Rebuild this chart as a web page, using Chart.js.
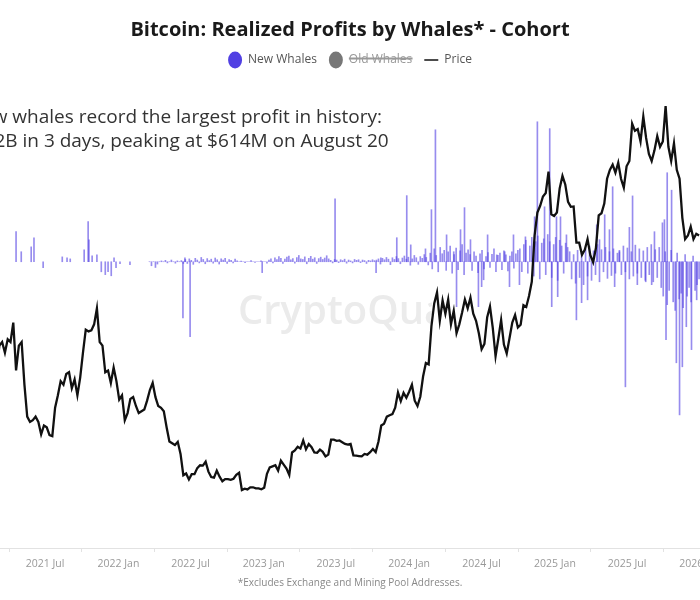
<!DOCTYPE html>
<html>
<head>
<meta charset="utf-8">
<script src="https://cdn.jsdelivr.net/npm/chart.js@4.4.1/dist/chart.umd.min.js"></script>
<style>
  html, body { margin: 0; padding: 0; background: #fff; overflow: hidden; width: 700px; height: 600px; }
  #wrap { position: absolute; left: -60px; top: 0; width: 820px; height: 600px; }
</style>
</head>
<body>
<div id="wrap"><canvas id="chart"></canvas></div>
<script>
// Weekly BTC price (USD), one value per Monday starting 2021-03-01
const PRICE_START = '2021-03-01';
const price2021 = [49500, 57000, 58000, 55000, 58800, 58000, 63500, 50000, 57000,
    58000, 46000, 37000, 35500, 36000, 37000, 35500, 32000, 34500,
    34000, 31800, 31500, 39500, 43000, 47000, 46000, 49000, 49500,
    45000, 47500, 43000, 48000, 55000, 61500, 61000, 61300,
    63000, 67500, 58000, 57000, 49500, 50000, 46500, 50800, 47000];
const price2022 = [41800, 43000, 36000, 38000, 42000, 42500, 40000, 38000, 38500,
    39000, 41500, 44500, 46500, 42500, 40000, 39500, 38500,
    34000, 30000, 29500, 29000, 29900, 26500, 20500, 21000, 19300,
    20800, 20800, 22500, 23300, 23200, 24300, 21500, 20000, 19800,
    21800, 20100, 18800, 19400, 19400, 19200, 19500, 20600, 21200,
    16300, 16700, 16500, 17100, 17100, 16800, 16800, 16550];
const price2023 = [17000, 20900, 22700, 23000, 23300, 21800, 24600, 23500, 22400,
    20600, 26900, 27500, 28500, 28000, 30300, 27800, 29300,
    28400, 26900, 26800, 27700, 27100, 25800, 26300, 30500, 30500,
    30200, 30300, 29800, 29300, 29100, 29300, 26100, 26000, 25900,
    25800, 26500, 26300, 27000, 27900, 27000, 30000, 34500, 35000,
    37000, 37400, 37700, 39500, 43800, 41400, 43700, 42300];
const price2024 = [44000, 46000, 41500, 40000, 42600, 48300, 52100, 51700, 62500,
    68900, 72000, 64000, 69700, 66000, 70000, 63000, 66800, 60500,
    63000, 66300, 70000, 67500, 70500, 66000, 64000, 60500,
    56000, 57500, 65000, 68000, 62000, 54000, 59000, 64200, 57300,
    54800, 59100, 63500, 65600, 62100, 62900, 68400, 67900, 71000,
    75000, 88000, 94500, 96400, 99000, 100000, 106000, 94000, 93500];
const price2025 = [94500, 101300, 104800, 102400, 97500, 96100, 96200, 86000,
    86000, 82600, 84000, 87000, 82500, 80500, 84500, 93700, 94300,
    97000, 104000, 106500, 108000, 105700, 108500, 104000, 101500, 107500,
    109000, 119500, 117500, 118000, 114500, 121500, 115500, 111000,
    109000, 112000, 116000, 113000, 114500, 124500, 113000, 109000, 114000,
    106500, 104000, 93000, 87000, 88000, 90500, 87000, 88500, 88000];
const priceValues = [...price2021, ...price2022, ...price2023, ...price2024, ...price2025];

// New whales realized profit, notable spikes ($M)
const spikeDates = ['2021-04-19','2021-05-02','2021-05-27','2021-06-03','2021-06-26','2021-08-13','2021-08-25',
    '2021-09-02','2021-10-07','2021-10-17','2021-10-19','2021-10-27','2021-11-08','2021-11-19','2021-11-29',
    '2021-12-06','2021-12-14','2021-12-21','2021-12-26','2022-01-05','2022-01-30','2022-06-12','2022-06-17',
    '2022-06-30','2022-12-28','2023-06-29','2023-10-10','2023-10-22','2023-12-01','2023-12-26','2024-01-05',
    '2024-02-11','2024-02-26','2024-03-07','2024-04-04','2024-04-22','2024-04-29','2024-05-09','2024-05-19',
    '2024-06-03','2024-06-23','2024-07-01','2024-07-06','2024-07-16','2024-08-08','2024-08-28','2024-09-09',
    '2024-09-19','2024-10-04','2024-10-19','2024-11-11','2024-11-18','2024-12-06','2024-12-19','2024-12-24',
    '2025-01-05','2025-01-08','2025-01-15','2025-01-30','2025-02-24','2025-03-09','2025-03-24','2025-04-16',
    '2025-04-23','2025-05-06','2025-05-18','2025-05-26','2025-05-31','2025-06-12','2025-06-27','2025-07-07',
    '2025-07-15','2025-07-27','2025-08-17','2025-09-01','2025-09-08','2025-09-28','2025-10-03','2025-10-07',
    '2025-10-10','2025-10-21','2025-11-02','2025-11-10','2025-11-17','2025-11-27','2025-12-10','2025-12-23'];
const spikeValues = [105, 35, 52, 84, -21, 17, 14,
    10, 42, 140, 77, 21, 24, -35, -45,
    -35, -49, 14, -21, -7, -10, -196, 14,
    -262, -38, 220, -38, 14, 84, 231, 59,
    45, 182, 461, 94, 35, -157, 112, 189,
    77, -157, -87, -63, 94, 24, 35, -87,
    94, -80, 87, 157, 489, 192, 465, -157,
    157, -122, 157, 94, -203, -143, -133, 129,
    77, 164, 112, 262, -87, 35, -437, 120,
    230, -80, -70, -80, 105, 136, 147, -272,
    311, 250, -353, -535, -367, -227, -307, -133];

// Day-to-day small profits/losses ($M), every 5 days from 2022-03-20
const SMALL_START = '2022-03-20';
const smallValues = [0, -14, 0, -20, -8, 0, 3, 0, 5, -4, 0, 6, 0, -5, 3, 0, 4, -6,
    8, -6, 10, 5, -9, 12, 6, -4, 15, 8, -7, 11, 4, 9, -5, 13, 7, -8, 10, 6, 12, -6, 8, 5, -4, 9, 3,
    0, 2, 0, -3, 0, 0, 4, 0, -2, 0, 0, 3, 0, 0, -5,
    6, 10, -4, 14, 8, 18, 12, -6, 9, 16, 20, 7, 11, -5, 15, 22, 10, 8, 17, -7, 12, 19, 9, 14, -6, 11, 16, 8, 13, 21, 10,
    5, -4, 8, 6, -3, 7, 4, 9, -5, 6, 3, -4, 8, 5, 7, -3, 6, 4, -6, 5, 3, 7, 4,
    6, 10, -8, 12, 7, 15, 9, -10, 14, 8, 18, 11, -7, 13, 20, 9, 16, -12, 10, 22, 14, -9, 18, 12, 25, 15, -11,
    30, -25, 45, 22, -35, 50, 28, 40, -30, 35, 55, -40, 25, 48, -28, 38, 60, -45, 30, 42,
    25, -30, 35, 20, -38, 28, 40, -25, 18, 32, -20, 26, 45, -35, 22, 30, -28, 38, 24, -32, 20, 35, -22, 28, 40,
    45, -35, 60, 75, -40, 55, 85, -50, 70, 90, -60, 65, 80, -45, 95, 70, -55, 60, 85, -65, 75, 55, -40, 65, 50,
    35, -60, 25, -75, 40, -55, 30, -80, 45, -50, 55, -65, 38, -45, 60, -70, 42, -35, 50, -58, 35, -48, 45, -40, 30,
    40, -45, 55, -35, 48, -60, 35, -50, 58, -40, 45, -55, 38, -65, 50, -45, 60, -70, 42, -55,
    50, -90, -120, 35, -150, -100, 40, -140, -170, 30, -130, -110, -160, 25, -120, -90, -140, 20, -100, -80, -60];

// x-axis tick labels
const tickDates = ['2021-01-01','2021-07-01','2022-01-01','2022-07-01','2023-01-01','2023-07-01',
    '2024-01-01','2024-07-01','2025-01-01','2025-07-01','2026-01-01'];
const tickLabels = ['2021 Jan','2021 Jul','2022 Jan','2022 Jul','2023 Jan','2023 Jul',
    '2024 Jan','2024 Jul','2025 Jan','2025 Jul','2026 Jan'];

const DAY = 86400000;
const toTime = d => Date.parse(d + 'T00:00:00Z');

const priceData = priceValues.map((v, i) => ({ x: toTime(PRICE_START) + i * 7 * DAY, y: v }));
const barData = spikeDates.map((d, i) => ({ x: toTime(d), y: spikeValues[i] }))
    .concat(smallValues.map((v, i) => ({ x: toTime(SMALL_START) + i * 5 * DAY, y: v })))
    .sort((a, b) => a.x - b.x);

const NEW_COLOR = '#5140e3';

// Watermark and note text
const textPlugin = {
    id: 'notes',
    beforeInit(chart) {
        // extra room between legend and plot
        const fit = chart.legend.fit;
        chart.legend.fit = function () { fit.call(this); this.height += 14; };
    },
    beforeDatasetsDraw(chart) {
        const ctx = chart.ctx;
        ctx.save();
        ctx.beginPath();
        ctx.rect(0, 0, 492, 600);
        ctx.clip();
        ctx.font = '600 40px "Open Sans"';
        ctx.fillStyle = '#ebebeb';
        ctx.textBaseline = 'middle';
        ctx.fillText('CryptoQuant', 298, 313);
        ctx.restore();

        ctx.save();
        ctx.font = '19px "Open Sans"';
        ctx.fillStyle = '#333';
        ctx.textBaseline = 'middle';
        const line1 = 'New whales record the largest profit in history:';
        const line2 = '$1.2B in 3 days, peaking at $614M on August 20';
        const x0 = 442 - ctx.measureText(line1).width;
        ctx.fillText(line1, x0, 118);
        ctx.fillText(line2, x0, 142);
        ctx.restore();
    }
};

const chart = new Chart(document.getElementById('chart'), {
    type: 'bar',
    data: {
        datasets: [{
            label: 'New Whales',
            data: barData,
            yAxisID: 'yb',
            backgroundColor: 'rgba(81,64,227,0.6)',
            barThickness: 1,
            grouped: false,
            pointStyle: 'circle'
        }, {
            label: 'Old Whales',
            data: [],
            yAxisID: 'yb',
            backgroundColor: '#777',
            hidden: true,
            grouped: false,
            pointStyle: 'circle'
        }, {
            type: 'line',
            label: 'Price',
            data: priceData,
            yAxisID: 'yp',
            borderColor: '#111',
            backgroundColor: '#111',
            borderWidth: 2.3,
            pointRadius: 0,
            tension: 0,
            order: -1,
            pointStyle: 'line'
        }]
    },
    options: {
        responsive: true,
        maintainAspectRatio: false,
        animation: false,
        layout: { padding: { top: 0, bottom: 10.4, left: 0, right: 0 } },
        plugins: {
            title: {
                display: true,
                text: 'Bitcoin: Realized Profits by Whales* - Cohort',
                color: '#1a1a1a',
                font: { family: 'Open Sans', size: 20, weight: 'bold' },
                padding: { top: 18, bottom: 0 }
            },
            legend: {
                display: true,
                labels: {
                    usePointStyle: true,
                    boxHeight: 13,
                    pointStyleWidth: 14,
                    color: '#555',
                    font: { family: 'Open Sans', size: 12 },
                    padding: 12,
                    sort: (a, b) => a.datasetIndex - b.datasetIndex,
                    generateLabels(c) {
                        const items = Chart.defaults.plugins.legend.labels.generateLabels(c);
                        items.forEach(it => {
                            if (it.datasetIndex === 0) { it.fillStyle = NEW_COLOR; it.strokeStyle = NEW_COLOR; }
                            if (it.datasetIndex === 1) { it.fillStyle = '#777'; it.strokeStyle = '#777'; it.fontColor = '#999'; }
                            if (it.datasetIndex === 2) { it.lineWidth = 1.5; }
                        });
                        return items;
                    }
                }
            },
            tooltip: { enabled: false }
        },
        scales: {
            x: {
                type: 'linear',
                offset: false,
                min: toTime('2020-10-10'),
                max: toTime('2026-05-31'),
                afterBuildTicks: scale => { scale.ticks = tickDates.map(d => ({ value: toTime(d) })); },
                ticks: {
                    autoSkip: false,
                    maxRotation: 0,
                    color: '#999',
                    padding: 5.5,
                    font: { family: 'Open Sans', size: 10.5 },
                    callback: (v, i) => tickLabels[i]
                },
                grid: { drawOnChartArea: false, drawTicks: true, tickLength: 4, color: '#e2e2e2' },
                border: { color: '#e2e2e2' },
                title: {
                    display: true,
                    text: '*Excludes Exchange and Mining Pool Addresses.',
                    color: '#888',
                    font: { family: 'Open Sans', size: 10 },
                    padding: { top: 2, bottom: 0 }
                }
            },
            yp: {
                position: 'left',
                min: 0,
                max: 129000,
                ticks: { display: false, stepSize: 30000 },
                grid: {
                    drawTicks: false,
                    color: c => (c.tick && c.tick.value % 30000 === 0 && c.tick.value > 0) ? '#efefef' : 'rgba(0,0,0,0)'
                },
                border: { display: false }
            },
            yb: {
                display: false,
                min: -1000,
                max: 600
            }
        }
    },
    plugins: [textPlugin]
});
</script>
</body>
</html>
